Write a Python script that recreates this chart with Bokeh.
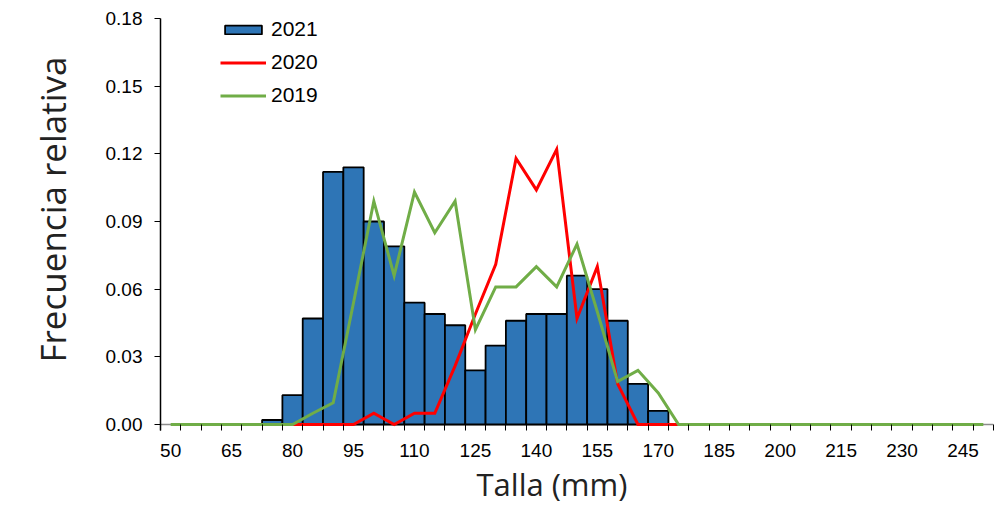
from bokeh.plotting import figure
from bokeh.models import FixedTicker, Legend, LegendItem, Span, Title, CustomJSTickFormatter
from bokeh.embed import file_html
from bokeh.resources import INLINE

# Length classes (mm), one every 5 mm
sizes = list(range(50, 255, 5))

# 2021: relative frequency per class (bars)
sizes_2021 = [75, 80, 85, 90, 95, 100, 105, 110, 115, 120, 125, 130, 135, 140, 145, 150, 155, 160, 165, 170]
freq_2021 = [0.002, 0.013, 0.047, 0.112, 0.114, 0.090, 0.079, 0.054, 0.049, 0.044,
             0.024, 0.035, 0.046, 0.049, 0.049, 0.066, 0.060, 0.046, 0.018, 0.006]

# 2020: relative frequency per class (red line)
sizes_2020 = [80, 85, 90, 95, 100, 105, 110, 115, 120, 125, 130, 135, 140, 145, 150, 155, 160, 165, 170, 175]
freq_2020 = [0.0, 0.0, 0.0, 0.0, 0.005, 0.0, 0.005, 0.005, 0.026, 0.049,
             0.071, 0.118, 0.104, 0.122, 0.047, 0.070, 0.018, 0.0, 0.0, 0.0]

# 2019: relative frequency per class (green line), 50-250 mm
freq_2019 = [0.0, 0.0, 0.0, 0.0, 0.0, 0.0, 0.0, 0.005, 0.0096, 0.054,
             0.099, 0.066, 0.103, 0.085, 0.099, 0.042, 0.061, 0.061, 0.070, 0.061,
             0.080, 0.050, 0.019, 0.024, 0.014, 0.0, 0.0, 0.0, 0.0, 0.0,
             0.0, 0.0, 0.0, 0.0, 0.0, 0.0, 0.0, 0.0, 0.0, 0.0, 0.0]

y_ticks = [0.0, 0.03, 0.06, 0.09, 0.12, 0.15, 0.18]
x_label_ticks = list(range(50, 250, 15))

step = 5
x_lo = sizes[0] - step / 2
x_hi = sizes[-1] + step / 2

# a little room below zero so the zero-level lines are not cut by the frame
p = figure(width=994, height=506, output_backend="svg", toolbar_location=None,
           x_range=(x_lo, x_hi), y_range=(-0.00266, 0.18),
           min_border_left=160, min_border_right=1, min_border_top=18, min_border_bottom=76)
p.outline_line_color = None
p.xgrid.grid_line_color = None
p.ygrid.grid_line_color = None
p.background_fill_color = "white"
p.border_fill_color = "white"

# gray baseline under the marks
p.add_layout(Span(location=0, dimension="width", line_color="#8C8C8C",
                  line_width=1.5, level="underlay"))

bars = p.vbar(x=sizes_2021, top=freq_2021, width=step, bottom=0,
              fill_color="#2E75B6", line_color="black", line_width=1.8)
red = p.line(sizes_2020, freq_2020, line_color="#FF0000", line_width=3, line_join="miter")
green = p.line(sizes, freq_2019, line_color="#70AD47", line_width=3, line_join="miter")

# x axis: labels every 15 mm, tick marks on class boundaries (from zero down to the frame edge)
xa = p.xaxis[0]
xa.ticker = FixedTicker(ticks=x_label_ticks,
                        minor_ticks=[x_lo + step * i for i in range(len(sizes) + 1)])
xa.major_tick_line_color = None
xa.minor_tick_line_color = "black"
xa.minor_tick_out = 0
xa.minor_tick_in = 6
xa.minor_tick_line_width = 1
xa.axis_line_color = None
xa.major_label_text_font = "Liberation Sans"
xa.major_label_text_font_size = "19px"
xa.major_label_text_color = "black"
xa.major_label_standoff = 7

ya = p.yaxis[0]
ya.ticker = FixedTicker(ticks=y_ticks)
ya.formatter = CustomJSTickFormatter(code="return tick.toFixed(2);")
ya.major_tick_line_color = "black"
ya.major_tick_out = 6
ya.major_tick_in = 0
ya.minor_tick_line_color = None
ya.axis_line_color = "black"
ya.axis_line_width = 1.5
ya.major_label_text_font = "Liberation Sans"
ya.major_label_text_font_size = "19px"
ya.major_label_text_color = "black"
ya.major_label_standoff = 12

# Axis titles
p.add_layout(Title(text="Talla (mm)", align="left", offset=316, standoff=2,
                   text_font="Open Sans", text_font_size="31px", text_font_style="normal",
                   text_color="#222222"), "below")
p.add_layout(Title(text="Frecuencia relativa", align="left", offset=68, standoff=50,
                   vertical_align="top",
                   text_font="Open Sans", text_font_size="35px", text_font_style="normal",
                   text_color="#222222"), "left")

legend = Legend(items=[LegendItem(label="2021", renderers=[bars]),
                       LegendItem(label="2020", renderers=[red]),
                       LegendItem(label="2019", renderers=[green])],
                location=(60, 323), orientation="vertical",
                glyph_width=46, glyph_height=11, label_height=21, spacing=9,
                padding=0, margin=0, label_standoff=5,
                label_text_font="Liberation Sans", label_text_font_size="21px",
                label_text_color="black",
                border_line_color=None, background_fill_alpha=0)
p.add_layout(legend)

open("out.html", "w").write(file_html(p, INLINE))
